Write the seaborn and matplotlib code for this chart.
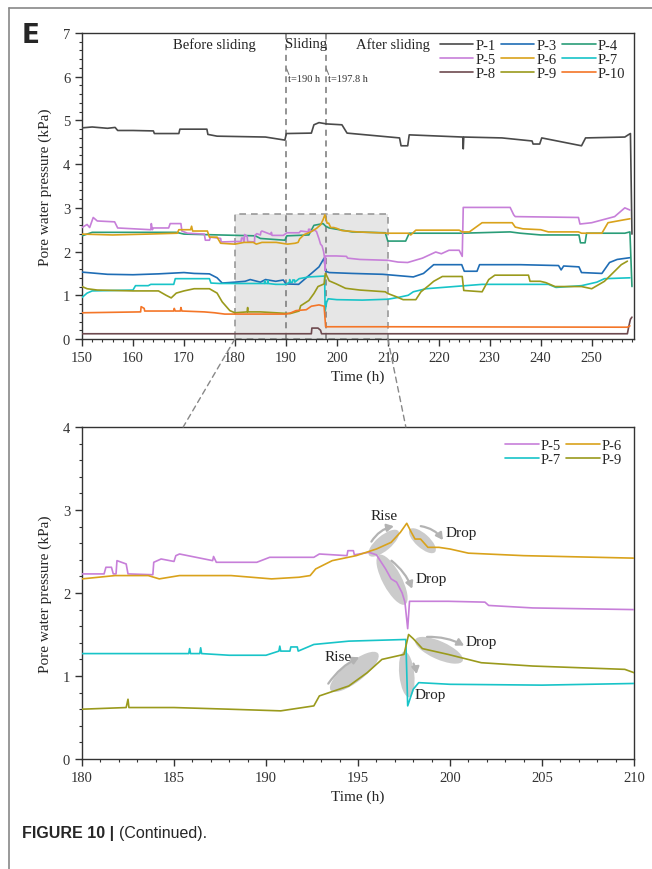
import numpy as np
import pandas as pd
import matplotlib
matplotlib.use("Agg")
import matplotlib.pyplot as plt
import seaborn as sns
from matplotlib.patches import Ellipse, FancyArrowPatch, Rectangle, ConnectionPatch
from matplotlib.lines import Line2D
from matplotlib.ticker import MultipleLocator
from matplotlib import transforms

# ---------------- data ----------------
series_names = ["P-1", "P-3", "P-4", "P-5", "P-6", "P-7", "P-8", "P-9", "P-10"]

p1_t = [150, 152, 155, 156.5, 157, 160, 164, 164.2, 169, 169.2, 174.5, 174.7, 176.5, 186, 189.8, 190.1,
        195, 195.5, 196.5, 198, 201, 202, 212.3, 212.6, 213.9, 214.2, 224.7, 224.8, 224.9, 232.4, 238.3,
        238.5, 239.8, 240.2, 248, 248.8, 256.5, 257.3, 257.6, 257.9]
p1_v = [4.83, 4.85, 4.82, 4.84, 4.77, 4.77, 4.76, 4.70, 4.70, 4.80, 4.80, 4.68, 4.64, 4.62, 4.55, 4.70,
        4.71, 4.90, 4.95, 4.92, 4.90, 4.71, 4.60, 4.42, 4.42, 4.67, 4.62, 4.35, 4.62, 4.60, 4.53,
        4.46, 4.46, 4.60, 4.42, 4.60, 4.62, 4.68, 4.70, 2.40]

p3_t = [150, 155, 160, 165, 170, 172, 175, 176.5, 177.5, 180, 182, 183, 185, 186, 188, 189.5, 190, 192.5,
        193.5, 195, 196.5, 197.5, 197.8, 198.5, 203, 209, 212, 215, 217, 219, 224.5, 225, 227.5, 228,
        236, 243.5, 244, 244.5, 247.5, 248, 252, 253.5, 255, 257.5]
p3_v = [1.53, 1.48, 1.47, 1.49, 1.52, 1.50, 1.49, 1.40, 1.28, 1.30, 1.32, 1.36, 1.30, 1.36, 1.32, 1.35, 1.26, 1.25,
        1.35, 1.50, 1.65, 1.85, 1.55, 1.52, 1.50, 1.48, 1.45, 1.42, 1.50, 1.70, 1.70, 1.55, 1.55, 1.70,
        1.70, 1.68, 1.58, 1.67, 1.65, 1.52, 1.50, 1.75, 1.82, 1.86]

p4_t = [150, 152, 168.5, 170, 177, 184, 185, 189.8, 190.2, 194.5, 195.5, 197.3, 197.8, 198.5, 203, 209.5,
        210, 213.5, 214.2, 224.5, 234, 236, 240, 247.5, 247.8, 248.7, 249, 256.5, 257.5, 257.9]
p4_v = [2.36, 2.44, 2.44, 2.40, 2.38, 2.36, 2.30, 2.26, 2.36, 2.38, 2.60, 2.64, 2.58, 2.54, 2.45, 2.43,
        2.24, 2.24, 2.42, 2.42, 2.45, 2.42, 2.38, 2.38, 2.20, 2.20, 2.42, 2.42, 2.45, 1.20]

p5_t = [150, 151, 151.5, 152.2, 153, 156.4, 157, 163.5, 163.6, 163.8, 164, 167, 167.3, 169.4, 169.6, 170.7,
        174, 174.2, 175, 175.2, 177.2, 177.3, 180, 181.2, 181.3, 181.6, 181.7, 181.85, 181.9, 182.4, 182.5,
        183.85, 183.9, 184.3, 185, 185.1, 185.3, 187.1, 187.15, 187.3, 189.5, 190.2, 192.6, 192.9, 194.4,
        194.45, 194.75, 194.8, 195.6, 196, 196.5, 196.8, 197.1, 197.4, 197.55, 197.7, 197.8, 199.9, 201.9,
        202.1, 204.5, 210, 212, 213.9, 216.8, 219.4, 220.5, 222, 224, 224.6, 224.8, 234, 234.7, 235, 247.4,
        247.7, 250, 254.5, 256.5, 257.5]
p5_v = [2.55, 2.62, 2.55, 2.78, 2.70, 2.68, 2.54, 2.50, 2.64, 2.50, 2.54, 2.54, 2.64, 2.64, 2.47, 2.42,
        2.40, 2.26, 2.26, 2.33, 2.30, 2.22, 2.23, 2.23, 2.31, 2.31, 2.23, 2.23, 2.39, 2.35, 2.23,
        2.22, 2.37, 2.41, 2.38, 2.45, 2.47, 2.39, 2.44, 2.37, 2.37, 2.43, 2.43, 2.47, 2.45,
        2.51, 2.51, 2.46, 2.49, 2.46, 2.29, 2.17, 2.13, 2.00, 1.89, 1.57, 1.90, 1.90, 1.89,
        1.85, 1.82, 1.80, 1.76, 1.75, 1.85, 1.99, 1.95, 2.03, 2.03, 1.89, 3.01, 3.01, 2.84, 2.80, 2.78,
        2.63, 2.66, 2.80, 3.00, 2.95]

p6_t = [150, 156, 163, 168.7, 169, 171.3, 171.5, 171.7, 174.6, 175, 176.5, 177.2, 180, 181.8, 183.6, 184.2,
        185.3, 188.1, 190.3, 191.8, 192.4, 192.7, 193.6, 194.9, 196, 196.8, 197.3, 197.65, 197.9, 198.1,
        198.4, 198.8, 199.4, 200, 201, 204, 210, 214, 214.5, 215.5, 224, 224.6, 226, 228.5, 234.4, 235,
        236.5, 240, 241.5, 247.4, 248, 252, 253.2, 256.5, 257.5]
p6_v = [2.40, 2.38, 2.40, 2.42, 2.50, 2.50, 2.58, 2.47, 2.47, 2.33, 2.33, 2.19, 2.17, 2.21, 2.21, 2.17,
        2.21, 2.21, 2.17, 2.19, 2.21, 2.29, 2.39, 2.45, 2.53, 2.61, 2.73, 2.84, 2.73, 2.65,
        2.65, 2.55, 2.55, 2.53, 2.48, 2.45, 2.42, 2.42, 2.38, 2.49, 2.49, 2.45, 2.45, 2.66, 2.66, 2.56,
        2.52, 2.50, 2.45, 2.45, 2.42, 2.42, 2.66, 2.73, 2.75]

p7_t = [150, 151, 152, 160, 160.5, 163, 163.5, 168, 168.3, 175, 175.3, 177, 180, 185.8, 185.85, 185.9,
        186.4, 186.45, 186.5, 188, 190, 190.7, 190.75, 190.8, 191.3, 191.35, 191.7, 191.75, 192.6, 194.5,
        197.6, 197.7, 198, 198.3, 200, 205, 210, 212, 214, 215, 217.5, 228.5, 241.5, 243, 248, 251,
        252.5, 257.5]
p7_v = [0.95, 1.05, 1.10, 1.12, 1.22, 1.22, 1.25, 1.25, 1.38, 1.38, 1.28, 1.27, 1.27, 1.27, 1.33, 1.27,
        1.27, 1.34, 1.27, 1.25, 1.25, 1.30, 1.36, 1.30, 1.30, 1.35, 1.35, 1.30, 1.38, 1.42,
        1.44, 0.64, 0.84, 0.92, 0.90, 0.89, 0.91, 0.95, 1.00, 1.08, 1.15, 1.25, 1.25, 1.18, 1.22, 1.30,
        1.38, 1.40]

p8_t = [150, 195, 195.1, 196.3, 196.8, 197, 257, 257.3, 257.6, 257.9]
p8_v = [0.12, 0.12, 0.25, 0.25, 0.20, 0.12, 0.12, 0.30, 0.45, 0.50]

p9_t = [150, 151, 153, 160, 165, 166.5, 167.5, 168.5, 170, 172, 175, 176.5, 177.5, 179, 180, 182.4, 182.5,
        182.55, 185, 188, 190.8, 192.6, 192.9, 194.5, 195.5, 196.3, 197.5, 197.75, 198, 198.5, 199.9,
        201.7, 204.5, 209.5, 210, 211.6, 213, 215.5, 216.5, 218, 219, 220.7, 224.6, 224.9, 228.5, 229.8,
        231, 237.6, 237.9, 239.9, 241, 242.8, 248, 250, 252.5, 255.8, 257]
p9_v = [1.20, 1.15, 1.12, 1.10, 1.10, 1.00, 0.94, 1.05, 1.10, 1.15, 1.15, 1.05, 0.85, 0.65, 0.60, 0.62, 0.72,
        0.62, 0.62, 0.60, 0.58, 0.64, 0.76, 0.88, 1.04, 1.20, 1.26, 1.50, 1.45, 1.33, 1.26,
        1.16, 1.12, 1.08, 1.04, 0.97, 0.90, 0.90, 1.08, 1.22, 1.32, 1.43, 1.43, 1.11, 1.08, 1.36,
        1.46, 1.46, 1.32, 1.32, 1.29, 1.20, 1.20, 1.15, 1.32, 1.70, 1.78]

p10_t = [150, 161.5, 161.6, 162.2, 162.3, 168, 168.1, 168.3, 169.3, 169.4, 169.6, 174, 176, 178, 190, 191,
         192, 194, 195, 196.5, 197.5, 197.8, 210, 257, 257.5]
p10_v = [0.60, 0.62, 0.74, 0.70, 0.64, 0.64, 0.70, 0.64, 0.64, 0.72, 0.64, 0.62, 0.60, 0.57, 0.57, 0.60,
         0.65, 0.67, 0.75, 0.78, 0.75, 0.28, 0.28, 0.27, 0.30]

series_t = [p1_t, p3_t, p4_t, p5_t, p6_t, p7_t, p8_t, p9_t, p10_t]
series_v = [p1_v, p3_v, p4_v, p5_v, p6_v, p7_v, p8_v, p9_v, p10_v]
zoom_names = ["P-5", "P-6", "P-7", "P-9"]

colors = {"P-1": "#4a4a4a", "P-3": "#1f6db5", "P-4": "#2a9d78", "P-5": "#c77fd9", "P-6": "#d9a21b",
          "P-7": "#18c4c8", "P-8": "#6e4a4f", "P-9": "#9a9a1c", "P-10": "#f47628"}

frames = []
for n, t, v in zip(series_names, series_t, series_v):
    frames.append(pd.DataFrame({"Time": t, "Pressure": v, "Sensor": n}))
df = pd.concat(frames, ignore_index=True)

# ---------------- figure ----------------
sns.set_style("ticks")
plt.rcParams["font.family"] = ["Liberation Serif", "DejaVu Serif"]
plt.rcParams["axes.linewidth"] = 1.0

W, H = 652, 870
fig = plt.figure(figsize=(W / 100, H / 100), dpi=100)
ax1 = fig.add_axes([82 / W, 1 - 340 / H, (634 - 82) / W, (340 - 34) / H])
ax2 = fig.add_axes([82 / W, 1 - 760 / H, (634 - 82) / W, (760 - 428) / H])

lw = 1.2
for n in series_names:
    d = df[df.Sensor == n]
    sns.lineplot(data=d, x="Time", y="Pressure", ax=ax1, color=colors[n], lw=lw,
                 label=n, sort=False, estimator=None, zorder=3)
for n in zoom_names:
    d = df[df.Sensor == n]
    sns.lineplot(data=d, x="Time", y="Pressure", ax=ax2, color=colors[n], lw=lw,
                 label=n, sort=False, estimator=None, zorder=3)

# ---- top axes formatting ----
ax1.set_xlim(150, 258.3)
ax1.set_ylim(0, 7)
ax1.xaxis.set_major_locator(MultipleLocator(10))
ax1.xaxis.set_minor_locator(MultipleLocator(2))
ax1.yaxis.set_major_locator(MultipleLocator(1))
ax1.yaxis.set_minor_locator(MultipleLocator(0.2))
ax1.set_xlabel("Time (h)", fontsize=11, labelpad=4)
ax1.set_ylabel("Pore water pressure (kPa)", fontsize=11, labelpad=8)

for ax in (ax1, ax2):
    for s in ax.spines.values():
        s.set_visible(True)
        s.set_color("#333333")
    ax.tick_params(which="major", direction="out", length=5, width=1, labelsize=10.5, colors="#333333")
    ax.tick_params(which="minor", direction="out", length=2.5, width=0.8, colors="#333333")
    ax.tick_params(labelcolor="#333333")

# shaded zoom box
ax1.add_patch(Rectangle((180, 0), 30, 2.85, facecolor="#e6e6e6", edgecolor="#999999",
                        lw=1.2, ls=(0, (4, 3)), zorder=1))
# sliding lines
for xv in (190, 197.8):
    ax1.axvline(xv, color="#777777", lw=1.1, ls=(0, (4, 3)), zorder=2)
ax1.text(176, 6.75, "Before sliding", ha="center", va="center", fontsize=10.5, color="#222222")
ax1.text(193.9, 6.75, "Sliding", ha="center", va="center", fontsize=10.5, color="#222222")
ax1.text(211, 6.75, "After sliding", ha="center", va="center", fontsize=10.5, color="#222222")
ax1.plot([190.15, 190.6], [6.18, 6.05], color="#777777", lw=0.7)
ax1.plot([197.95, 198.4], [6.18, 6.05], color="#777777", lw=0.7)
ax1.text(190.5, 5.97, "t=190 h", ha="left", va="center", fontsize=7.5, color="#333333")
ax1.text(198.3, 5.97, "t=197.8 h", ha="left", va="center", fontsize=7.5, color="#333333")

h, l = ax1.get_legend_handles_labels()
hd = dict(zip(l, h))
order1 = ["P-1", "P-5", "P-8", "P-3", "P-6", "P-9", "P-4", "P-7", "P-10"]
ax1.legend([hd[k] for k in order1], order1, ncol=3, loc="upper right", bbox_to_anchor=(1.0, 1.01),
           frameon=False, fontsize=10.5, handlelength=2.3, handletextpad=0.15, columnspacing=0.35,
           labelspacing=0.05, borderaxespad=0.2)

# ---- bottom axes formatting ----
ax2.set_xlim(180, 210)
ax2.set_ylim(0, 4)
ax2.xaxis.set_major_locator(MultipleLocator(5))
ax2.xaxis.set_minor_locator(MultipleLocator(1))
ax2.yaxis.set_major_locator(MultipleLocator(1))
ax2.yaxis.set_minor_locator(MultipleLocator(0.2))
ax2.set_xlabel("Time (h)", fontsize=11, labelpad=4)
ax2.set_ylabel("Pore water pressure (kPa)", fontsize=11, labelpad=8)

h, l = ax2.get_legend_handles_labels()
hd = dict(zip(l, h))
order2 = ["P-5", "P-7", "P-6", "P-9"]
ax2.legend([hd[k] for k in order2], order2, ncol=2, loc="upper right", bbox_to_anchor=(1.0, 1.0),
           frameon=False, fontsize=10.5, handlelength=2.3, handletextpad=0.15, columnspacing=0.35,
           labelspacing=0.05, borderaxespad=0.4)

# ellipses (pixel size, centred at data points)
ell_specs = [  # (t, v, major px, minor px, angle)
    (196.4, 2.60, 38, 15, 40),
    (198.5, 2.63, 34, 14, -42),
    (196.85, 2.16, 56, 19, -62),
    (194.8, 1.05, 60, 20, 38),
    (199.4, 1.31, 52, 18, -24),
    (197.65, 1.02, 46, 15, -84),
]
for (cx, cy, a, b, ang) in ell_specs:
    tr = fig.dpi_scale_trans + transforms.ScaledTranslation(cx, cy, ax2.transData)
    ax2.add_patch(Ellipse((0, 0), a / 100, b / 100, angle=ang, transform=tr,
                          facecolor="#c2c2c2", edgecolor="none", alpha=0.85, zorder=2))

arrow_specs = [  # (t0, v0, t1, v1, rad)
    (195.65, 2.59, 197.1, 2.81, -0.25),
    (198.26, 2.81, 199.7, 2.61, -0.25),
    (196.7, 2.41, 198.0, 2.02, -0.15),
    (193.3, 0.88, 195.2, 1.24, -0.15),
    (198.6, 1.47, 200.9, 1.35, -0.15),
    (197.95, 1.18, 198.2, 0.99, -0.1),
]
for (x0, y0, x1, y1, rad) in arrow_specs:
    ax2.add_patch(FancyArrowPatch((x0, y0), (x1, y1), connectionstyle=f"arc3,rad={rad}",
                                  arrowstyle="-|>,head_length=4,head_width=2.2", color="#b3b3b3",
                                  lw=1.6, zorder=2))

txt_specs = [("Rise", 196.4, 2.93), ("Drop", 200.6, 2.73), ("Drop", 199.0, 2.17),
             ("Rise", 193.9, 1.23), ("Drop", 201.7, 1.42), ("Drop", 198.9, 0.78)]
for s, x, y in txt_specs:
    ax2.text(x, y, s, ha="center", va="center", fontsize=11, color="#222222", zorder=5)

# connector dashed lines
for (xa, xb) in ((180, 185.5), (210, 197.6)):
    con = ConnectionPatch(xyA=(xa, 0), coordsA=ax1.transData, xyB=(xb, 4), coordsB=ax2.transData,
                          color="#888888", lw=1.0, ls=(0, (4, 3)))
    fig.add_artist(con)

# panel letter, caption, frame
fig.text(22 / W, 1 - 36 / H, "E", fontsize=19, fontweight="bold", family="DejaVu Sans",
         ha="left", va="center")
fig.text(22 / W, 1 - 834 / H, "FIGURE 10 |", fontsize=11.5, fontweight="bold", family="Liberation Sans",
         ha="left", va="center")
fig.text(119 / W, 1 - 834 / H, "(Continued).", fontsize=11.5, family="Liberation Sans",
         ha="left", va="center")
fig.add_artist(Line2D([9 / W, 9 / W], [0, 1 - 9 / H], transform=fig.transFigure, color="#888888", lw=1.2))
fig.add_artist(Line2D([9 / W, 1], [1 - 9 / H, 1 - 9 / H], transform=fig.transFigure, color="#888888", lw=1.2))

fig.savefig("out.png", dpi=100)
